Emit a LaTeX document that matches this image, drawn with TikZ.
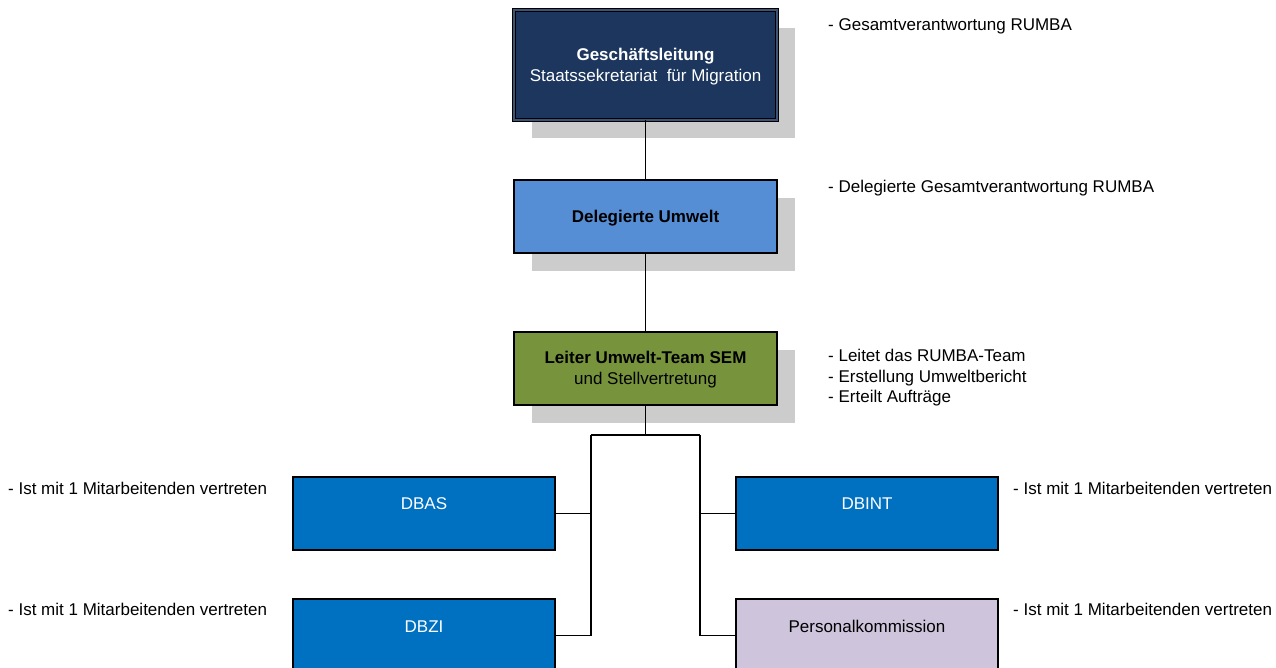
\documentclass[tikz,border=0pt]{standalone}
\usepackage{fontspec}
\setmainfont{Liberation Sans}
\usetikzlibrary{shadows}
\definecolor{navy}{RGB}{28,54,94}
\definecolor{delblue}{RGB}{85,142,213}
\definecolor{leadgreen}{RGB}{119,147,60}
\definecolor{dbblue}{RGB}{0,112,192}
\definecolor{lavender}{RGB}{206,196,220}
\definecolor{shadowgray}{RGB}{204,204,204}
\newcommand{\fsz}{\fontsize{17}{21}\selectfont}
\begin{document}
\begin{tikzpicture}[x=1pt,y=-1pt,
  box/.style={draw=black, line width=1.4pt, rectangle, inner sep=0pt, minimum width=263pt, minimum height=73pt},
  unitbox/.style={box, minimum width=262pt},
  boxtext/.style={font=\fsz, align=center, inner sep=0pt},
  shad/.style={drop shadow={shadow xshift=18pt, shadow yshift=-18pt, fill=shadowgray, opacity=1}},
  conn/.style={draw=black, line width=1.5pt},
  note/.style={anchor=west, font=\fsz, align=left, inner sep=0pt}]
\useasboundingbox (0,0) rectangle (1276,668);
\clip (0,0) rectangle (1276,668);
% boxes
\node[box, shad, fill=navy, minimum height=110pt, line width=1pt, double=navy!85!white, double distance=1.3pt] (top) at (645.5,65) {};
\node[boxtext, text=white] (toptxt) at ([yshift=-2pt]top.center) {\textbf{Geschäftsleitung}\\Staatssekretariat\ \ für Migration};
\node[box, shad, fill=delblue] (del) at (645.5,216.5) {};
\node[boxtext, text=black] (deltxt) at ([yshift=-1.5pt]del.center) {\textbf{Delegierte Umwelt}};
\node[box, shad, fill=leadgreen] (lead) at (645.5,368.5) {};
\node[boxtext, text=black] (leadtxt) at ([yshift=-1.5pt]lead.center) {\textbf{Leiter Umwelt-Team SEM}\\und Stellvertretung};
\node[unitbox, fill=dbblue] (dbas) at (424,513.5) {};
\node[boxtext, text=white] (dbastxt) at ([yshift=10pt]dbas.center) {DBAS};
\node[unitbox, fill=dbblue] (dbint) at (867,513.5) {};
\node[boxtext, text=white] (dbinttxt) at ([yshift=10pt]dbint.center) {DBINT};
\node[unitbox, fill=dbblue] (dbzi) at (424,635.5) {};
\node[boxtext, text=white] (dbzitxt) at ([yshift=9pt]dbzi.center) {DBZI};
\node[unitbox, fill=lavender] (pk) at (867,635.5) {};
\node[boxtext, text=black] (pktxt) at ([yshift=9pt]pk.center) {Personalkommission};
% connectors
\coordinate (busL) at (591,435);
\coordinate (busR) at (700,435);
\draw[conn] (top.south) -- (del.north);
\draw[conn] (del.south) -- (lead.north);
\draw[conn] (lead.south) -- (lead.south |- busL);
\draw[conn] (busL) -- (busR);
\draw[conn] (busL) |- (dbzi.east);
\draw[conn] (dbas.east) -- (dbas.east -| busL);
\draw[conn] (busR) |- (pk.west);
\draw[conn] (dbint.west) -- (dbint.west -| busR);
% notes
\node[note] (n1) at (828,26.5) {- Gesamtverantwortung RUMBA};
\node[note] (n2) at (828,188.5) {- Delegierte Gesamtverantwortung RUMBA};
\node[note, font=\fontsize{17}{20.5}\selectfont] (n3) at (828,378) {- Leitet das RUMBA-Team\\- Erstellung Umweltbericht\\- Erteilt Aufträge};
\node[note] (l1) at (8,488) {- Ist mit 1 Mitarbeitenden vertreten};
\node[note] (l2) at (8,609) {- Ist mit 1 Mitarbeitenden vertreten};
\node[note] (r1) at (1013,488) {- Ist mit 1 Mitarbeitenden vertreten};
\node[note] (r2) at (1013,609) {- Ist mit 1 Mitarbeitenden vertreten};
\end{tikzpicture}
\end{document}
